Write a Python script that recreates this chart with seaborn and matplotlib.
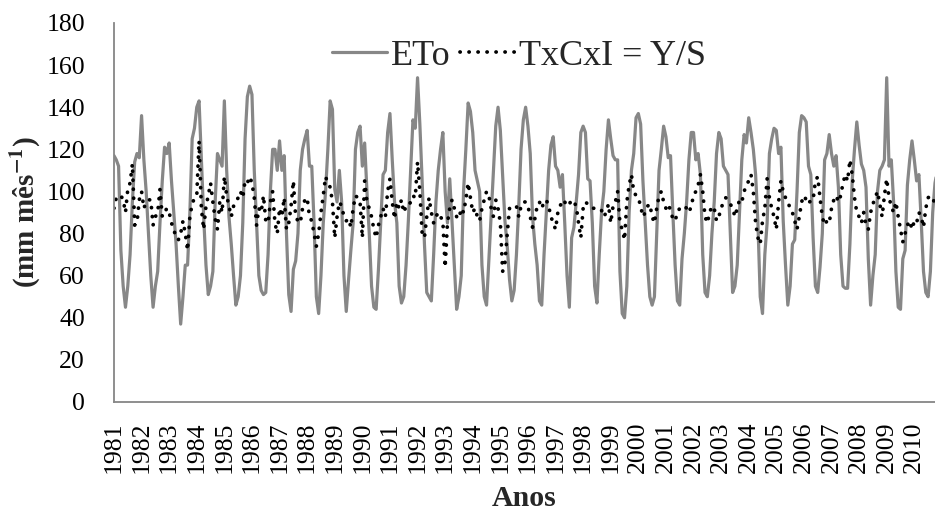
import matplotlib
matplotlib.use("Agg")
import matplotlib.pyplot as plt
import seaborn as sns
import numpy as np
import pandas as pd

# Years shown on the category axis (monthly data, Jan 1981 onward)
years = list(range(1981, 2011))

# Monthly reference evapotranspiration ETo (mm mês-1), one row per year
eto = [
    117, 115, 112, 72, 55, 45, 55, 70, 95, 114, 118, 116,    # 1981
    136, 115, 100, 80, 60, 45, 55, 62, 85, 105, 121, 118,    # 1982
    123, 105, 90, 75, 55, 37, 50, 65, 65, 90, 125, 130,      # 1983
    140, 143, 115, 88, 65, 51, 55, 62, 95, 118, 115, 112,    # 1984
    143, 110, 88, 75, 60, 46, 50, 60, 85, 125, 145, 150,     # 1985
    146, 110, 85, 60, 53, 51, 52, 70, 100, 120, 120, 110,    # 1986
    124, 110, 117, 80, 51, 43, 63, 67, 80, 110, 120, 125,    # 1987
    129, 112, 112, 85, 50, 42, 60, 85, 100, 120, 143, 139,   # 1988
    101, 95, 110, 95, 60, 43, 58, 72, 85, 120, 128, 131,     # 1989
    112, 123, 100, 80, 55, 45, 44, 63, 85, 108, 110, 128,    # 1990
    137, 115, 95, 85, 55, 47, 50, 65, 86, 110, 134, 130,     # 1991
    154, 132, 105, 75, 52, 50, 48, 70, 95, 110, 120, 128,    # 1992
    100, 85, 106, 85, 65, 44, 50, 60, 100, 120, 142, 138,    # 1993
    128, 110, 105, 100, 65, 50, 46, 67, 88, 110, 131, 140,   # 1994
    129, 107, 86, 74, 58, 48, 53, 70, 93, 120, 134, 140,     # 1995
    131, 118, 88, 75, 65, 48, 46, 70, 90, 110, 122, 126,     # 1996
    112, 110, 102, 108, 85, 60, 45, 78, 83, 95, 108, 128,    # 1997
    131, 128, 106, 105, 85, 55, 47, 70, 90, 100, 120, 134,   # 1998
    125, 117, 115, 115, 62, 42, 40, 55, 90, 110, 118, 135,   # 1999
    137, 132, 105, 85, 65, 50, 46, 50, 80, 110, 120, 131,    # 2000
    126, 116, 117, 90, 65, 48, 46, 68, 80, 95, 115, 128,     # 2001
    128, 115, 118, 108, 70, 52, 50, 60, 80, 95, 118, 128,    # 2002
    125, 112, 110, 108, 80, 52, 55, 65, 90, 115, 127, 123,   # 2003
    135, 128, 120, 108, 85, 50, 42, 70, 85, 118, 125, 130,   # 2004
    129, 118, 121, 86, 65, 46, 55, 75, 77, 100, 128, 136,    # 2005
    135, 133, 112, 108, 78, 55, 52, 64, 80, 115, 118, 127,   # 2006
    118, 112, 117, 102, 70, 55, 54, 54, 75, 105, 120, 133,   # 2007
    122, 113, 110, 102, 68, 46, 60, 70, 100, 110, 112, 115,  # 2008
    154, 112, 115, 95, 62, 45, 44, 68, 72, 103, 115, 124,    # 2009
    115, 105, 108, 86, 62, 52, 50, 62, 90, 104, 110, 115,    # 2010
]

# Monthly TxCxI = Y/S series, one row per year
txcxi = [
    92, 97, 97, 98, 96, 90, 101, 104, 113, 84, 85, 96,       # 1981
    100, 92, 95, 96, 96, 84, 88, 90, 101, 88, 90, 92,        # 1982
    90, 85, 82, 78, 77, 80, 86, 80, 72, 88, 94, 97,          # 1983
    98, 124, 92, 82, 93, 98, 104, 95, 87, 82, 95, 90,        # 1984
    107, 98, 93, 88, 93, 95, 97, 100, 97, 105, 104, 107,     # 1985
    104, 97, 84, 92, 90, 98, 86, 85, 95, 100, 85, 80,        # 1986
    92, 88, 97, 82, 85, 93, 105, 88, 86, 85, 92, 96,         # 1987
    97, 88, 86, 80, 74, 80, 90, 98, 107, 104, 102, 95,       # 1988
    78, 88, 95, 93, 88, 86, 87, 83, 92, 98, 97, 95,          # 1989
    78, 105, 95, 92, 88, 82, 78, 84, 88, 92, 88, 100,        # 1990
    106, 95, 87, 95, 92, 96, 90, 93, 93, 95, 98, 97,         # 1991
    114, 100, 80, 78, 88, 97, 90, 85, 88, 90, 88, 86,        # 1992
    64, 85, 92, 96, 92, 88, 87, 92, 90, 96, 104, 97,         # 1993
    90, 92, 88, 86, 92, 96, 100, 98, 92, 88, 96, 92,         # 1994
    85, 62, 66, 80, 92, 93, 93, 93, 88, 93, 95, 95,          # 1995
    93, 88, 83, 87, 93, 95, 92, 95, 96, 93, 88, 85,          # 1996
    82, 90, 93, 96, 95, 93, 94, 96, 95, 93, 85, 78,          # 1997
    92, 95, 94, 93, 92, 92, 92, 92, 91, 88, 90, 94,          # 1998
    85, 93, 95, 100, 85, 82, 77, 95, 103, 108, 100, 98,      # 1999
    97, 93, 88, 90, 93, 94, 88, 85, 92, 98, 100, 95,         # 2000
    92, 94, 91, 87, 86, 90, 92, 93, 93, 92, 90, 93,          # 2001
    98, 100, 103, 108, 100, 88, 85, 90, 93, 92, 86, 88,      # 2002
    92, 95, 97, 96, 94, 92, 88, 92, 96, 95, 100, 103,        # 2003
    105, 108, 100, 85, 78, 75, 86, 92, 106, 97, 92, 88,      # 2004
    82, 95, 105, 100, 97, 95, 92, 90, 86, 82, 88, 95,        # 2005
    98, 96, 94, 96, 96, 105, 107, 97, 88, 84, 86, 85,        # 2006
    92, 96, 98, 95, 98, 104, 108, 105, 115, 108, 97, 90,     # 2007
    88, 85, 90, 84, 82, 90, 94, 97, 100, 94, 88, 98,         # 2008
    106, 97, 93, 90, 95, 88, 82, 76, 80, 84, 86, 82,         # 2009
    86, 85, 90, 88, 83, 92, 97, 98, 96, 95, 93, 92,          # 2010
]

y_ticks = [0, 20, 40, 60, 80, 100, 120, 140, 160, 180]

sns.set_theme(style="white")
plt.rcParams['font.family'] = ['Liberation Serif', 'DejaVu Serif']
plt.rcParams['mathtext.fontset'] = 'stix'

df = pd.DataFrame({
    'mes': np.arange(len(eto)),
    'ETo': eto,
    'TxCxI': txcxi,
})

fig = plt.figure(figsize=(9.35, 5.13), dpi=100)
ax = fig.add_axes([0.1219, 0.2164, 0.8781, 0.7388])

sns.lineplot(data=df, x='mes', y='ETo', ax=ax, color='#878787',
             linewidth=2.3, label='ETo')
sns.lineplot(data=df, x='mes', y='TxCxI', ax=ax, color='black',
             linewidth=2.7, linestyle=(0, (0.05, 2.35)),
             dash_capstyle='round', label='TxCxI = Y/S')

ax.set_xlim(0, 357)
ax.set_ylim(0, 180)
ax.set_yticks(y_ticks)
ax.set_yticklabels([str(v) for v in y_ticks])
ax.set_xticks(np.arange(0, 12 * len(years), 12))
ax.set_xticklabels([str(y) for y in years], rotation=90)
ax.tick_params(axis='y', length=0, labelsize=18.5, pad=21, colors='black')
ax.tick_params(axis='x', length=0, labelsize=18.5, pad=14, colors='black')

for side in ['top', 'right']:
    ax.spines[side].set_visible(False)
for side in ['left', 'bottom']:
    ax.spines[side].set_color('#868686')
    ax.spines[side].set_linewidth(1.3)

ax.set_xlabel('Anos', fontsize=21.5, fontweight='bold', labelpad=9)
ax.set_ylabel(r'(mm mês$^{\mathbf{-1}}$)', fontsize=21, fontweight='bold', labelpad=2)

ax.legend(loc='center', bbox_to_anchor=(0.555, 0.89), bbox_transform=fig.transFigure,
          ncol=2, frameon=False, fontsize=26, handlelength=1.55,
          handletextpad=0.1, columnspacing=0.25, borderpad=0, borderaxespad=0)

fig.savefig('out.png', dpi=100)
